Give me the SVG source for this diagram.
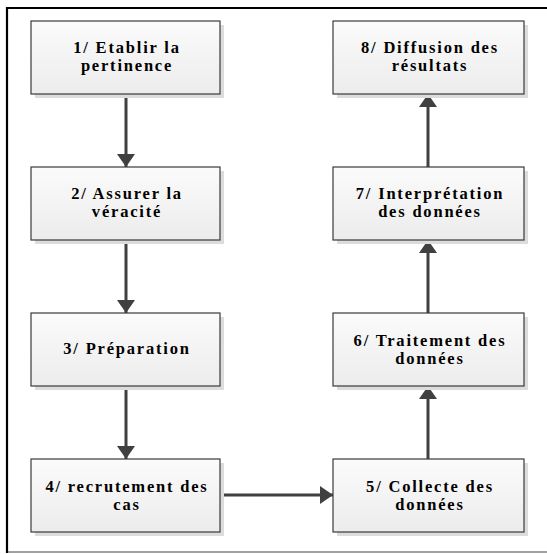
<svg xmlns="http://www.w3.org/2000/svg" width="547" height="554" viewBox="0 0 547 554">
<defs>
<linearGradient id="g" x1="0" y1="0" x2="0" y2="1">
<stop offset="0" stop-color="#fbfbfb"/>
<stop offset="1" stop-color="#ececec"/>
</linearGradient>
<marker id="ah" markerWidth="14" markerHeight="18" refX="13" refY="9" orient="auto" markerUnits="userSpaceOnUse">
<path d="M0,0 L13,9 L0,18 Z" fill="#404040"/>
</marker>
<style>
.sh{fill:#dcdcdc}
.bx{fill:url(#g);stroke:#3a3a3a;stroke-width:1.2}
.t{font-family:'Liberation Serif','DejaVu Serif',serif;font-weight:700;font-size:16.5px;letter-spacing:1.8px;fill:#000;text-anchor:middle}
.c{stroke:#404040;stroke-width:3;fill:none;marker-end:url(#ah)}
</style>
</defs>
<rect x="0" y="0" width="547" height="554" fill="#fff"/>
<line x1="6" y1="552" x2="547" y2="552" stroke="#808080" stroke-width="1.5"/>
<line x1="6" y1="8" x2="547" y2="8" stroke="#000" stroke-width="2.2"/>
<line x1="7" y1="7" x2="7" y2="553" stroke="#000" stroke-width="2.2"/>

<g id="connectors">
<line class="c" x1="126" y1="94" x2="126" y2="167"/>
<line class="c" x1="126" y1="240" x2="126" y2="313"/>
<line class="c" x1="126" y1="386" x2="126" y2="459"/>
<line class="c" x1="220" y1="495" x2="333" y2="495"/>
<line class="c" x1="428" y1="459" x2="428" y2="386"/>
<line class="c" x1="428" y1="313" x2="428" y2="240"/>
<line class="c" x1="428" y1="167" x2="428" y2="94"/>
</g>

<g id="n1"><rect class="sh" x="35" y="25" width="189" height="73"/><rect class="bx" x="31" y="21" width="189" height="73"/>
<text class="t" x="127" y="53">1/ Etablir la</text><text class="t" x="127" y="71">pertinence</text></g>
<g id="n2"><rect class="sh" x="35" y="171" width="189" height="73"/><rect class="bx" x="31" y="167" width="189" height="73"/>
<text class="t" x="127" y="199">2/ Assurer la</text><text class="t" x="127" y="217">véracité</text></g>
<g id="n3"><rect class="sh" x="35" y="317" width="189" height="73"/><rect class="bx" x="31" y="313" width="189" height="73"/>
<text class="t" x="127" y="354">3/ Préparation</text></g>
<g id="n4"><rect class="sh" x="35" y="463" width="189" height="73"/><rect class="bx" x="31" y="459" width="189" height="73"/>
<text class="t" x="127" y="492">4/ recrutement des</text><text class="t" x="127" y="510">cas</text></g>
<g id="n5"><rect class="sh" x="337" y="463" width="191" height="73"/><rect class="bx" x="333" y="459" width="191" height="73"/>
<text class="t" x="430" y="492">5/ Collecte des</text><text class="t" x="430" y="510">données</text></g>
<g id="n6"><rect class="sh" x="337" y="317" width="191" height="73"/><rect class="bx" x="333" y="313" width="191" height="73"/>
<text class="t" x="430" y="346">6/ Traitement des</text><text class="t" x="430" y="364">données</text></g>
<g id="n7"><rect class="sh" x="337" y="171" width="191" height="73"/><rect class="bx" x="333" y="167" width="191" height="73"/>
<text class="t" x="430" y="199">7/ Interprétation</text><text class="t" x="430" y="217">des données</text></g>
<g id="n8"><rect class="sh" x="337" y="25" width="191" height="73"/><rect class="bx" x="333" y="21" width="191" height="73"/>
<text class="t" x="430" y="53">8/ Diffusion des</text><text class="t" x="430" y="71">résultats</text></g>
</svg>
